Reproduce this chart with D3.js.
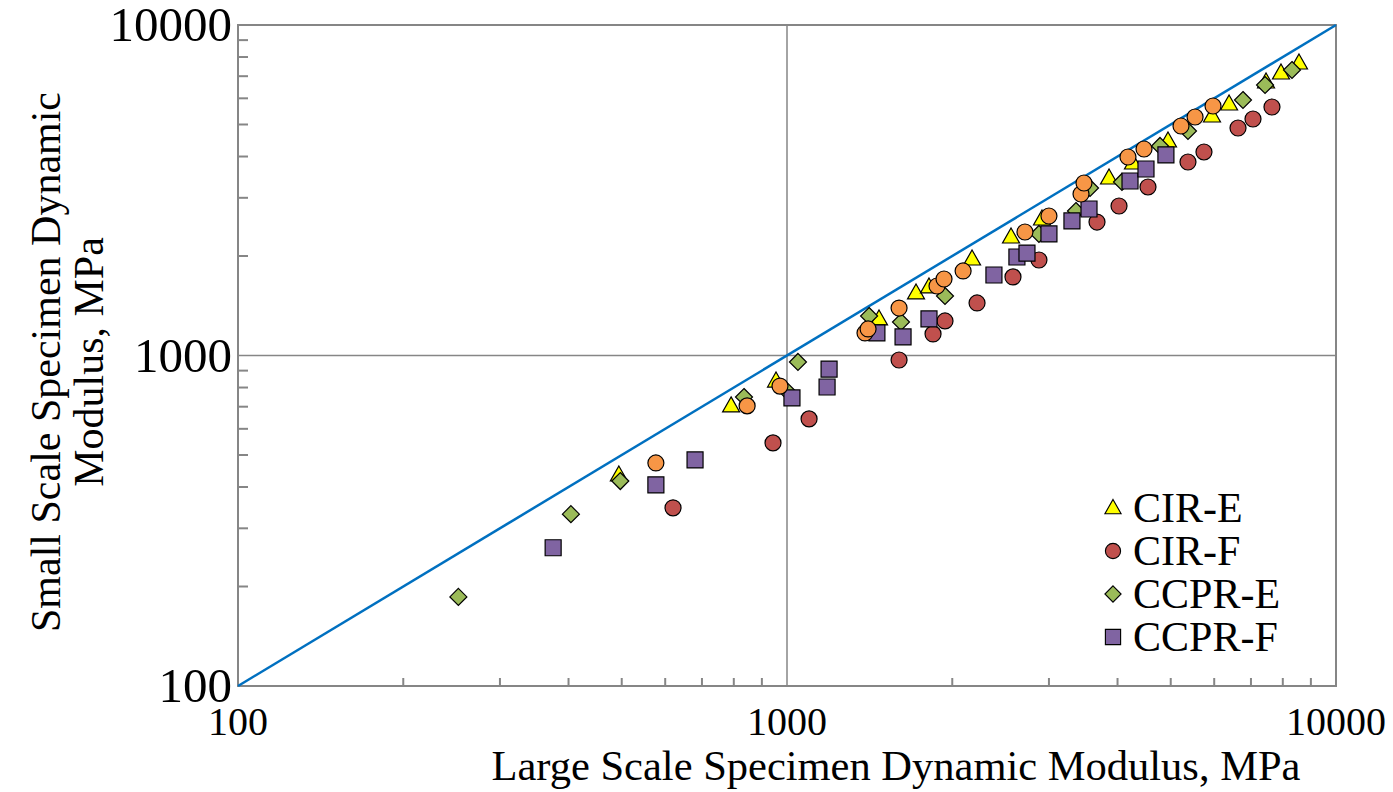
<!DOCTYPE html>
<html>
<head>
<meta charset="utf-8">
<script src="https://cdn.jsdelivr.net/npm/d3@7"></script>
<style>
  html, body { margin: 0; padding: 0; background: #fff; }
  svg text { font-family: "Liberation Serif", "Times New Roman", serif; fill: #000; }
</style>
</head>
<body>
<svg id="chart" width="1393" height="792"></svg>
<script>
// Small vs large scale specimen dynamic modulus (MPa), log-log

const xTicks = [100, 1000, 10000];
const yTicks = [100, 1000, 10000];

// CIR-E (yellow triangles)
const cirEx = [494, 791, 955, 1471, 1718, 1814, 2173, 2559, 2914, 3860, 4268, 4943, 5945, 6386, 7457, 7940, 8562];
const cirEy = [435, 704, 837, 1290, 1546, 1612, 1959, 2283, 2588, 3444, 3823, 4457, 5305, 5768, 6722, 7158, 7674];

// CIR-F (red circles)
const cirFx = [620, 943, 1097, 1600, 1845, 1940, 2219, 2580, 2877, 3670, 4025, 4545, 5375, 5748, 6630, 7060, 7645];
const cirFy = [346, 544, 643, 969, 1162, 1272, 1442, 1729, 1945, 2534, 2834, 3235, 3850, 4128, 4880, 5195, 5648];

// CCPR-E (green diamonds)
const ccprEx = [252, 404, 497, 835, 996, 1047, 1411, 1613, 1940, 2877, 3360, 3564, 4075, 4780, 5375, 6770, 7426, 8315];
const ccprEy = [186, 331, 417, 749, 786, 956, 1317, 1263, 1514, 2332, 2736, 3213, 3350, 4305, 4778, 5930, 6584, 7308];

// CCPR-F (purple squares)
const ccprFx = [375, 577, 680, 1021, 1183, 1193, 1458, 1627, 1814, 2382, 2623, 2736, 3000, 3304, 3549, 4215, 4507, 4900];
const ccprFy = [262, 406, 483, 744, 803, 910, 1170, 1138, 1290, 1752, 1986, 2042, 2332, 2553, 2775, 3373, 3667, 4044];

// unlabelled fifth series (orange circles, not in legend)
const extraX = [577, 846, 971, 1387, 1405, 1600, 1876, 1932, 2093, 2713, 3000, 3432, 3475, 4179, 4470, 5220, 5537, 5970];
const extraY = [473, 704, 808, 1170, 1203, 1392, 1623, 1704, 1802, 2364, 2643, 3081, 3326, 3986, 4215, 4947, 5268, 5687];

// line of equality
const lineX = [100, 10000];
const lineY = [100, 10000];

const series = [
  { name: 'CIR-E', xs: cirEx, ys: cirEy, shape: 'triangle', fill: '#FFFF00', legend: true },
  { name: 'CIR-F', xs: cirFx, ys: cirFy, shape: 'circle', fill: '#C0504D', legend: true },
  { name: 'CCPR-E', xs: ccprEx, ys: ccprEy, shape: 'diamond', fill: '#9BBB59', legend: true },
  { name: 'CCPR-F', xs: ccprFx, ys: ccprFy, shape: 'square', fill: '#8064A2', legend: true },
  { name: 'Extra', xs: extraX, ys: extraY, shape: 'circle', fill: '#F79646', legend: false }
];

const svg = d3.select('#chart');
const plotLeft = 238, plotRight = 1336, plotTop = 25, plotBottom = 686;

const x = d3.scaleLog().domain([100, 10000]).range([plotLeft, plotRight]);
const y = d3.scaleLog().domain([100, 10000]).range([plotBottom, plotTop]);

const axisColor = '#868686';

// minor tick values (2..9 in each decade)
const minors = [];
[100, 1000].forEach(dec => {
  for (let k = 2; k <= 9; k++) minors.push(dec * k);
});

// gridlines at the middle decade
svg.append('line')
  .attr('x1', x(1000)).attr('x2', x(1000))
  .attr('y1', plotTop).attr('y2', plotBottom)
  .attr('stroke', axisColor).attr('stroke-width', 1.5);
svg.append('line')
  .attr('x1', plotLeft).attr('x2', plotRight)
  .attr('y1', y(1000)).attr('y2', y(1000))
  .attr('stroke', axisColor).attr('stroke-width', 1.5);

// plot border
svg.append('rect')
  .attr('x', plotLeft).attr('y', plotTop)
  .attr('width', plotRight - plotLeft).attr('height', plotBottom - plotTop)
  .attr('fill', 'none')
  .attr('stroke', axisColor).attr('stroke-width', 2);

// minor ticks, drawn inward
svg.append('g').selectAll('line')
  .data(minors)
  .enter().append('line')
  .attr('x1', d => x(d)).attr('x2', d => x(d))
  .attr('y1', plotBottom).attr('y2', plotBottom - 8)
  .attr('stroke', axisColor).attr('stroke-width', 2);

svg.append('g').selectAll('line')
  .data(minors)
  .enter().append('line')
  .attr('x1', plotLeft).attr('x2', plotLeft + 10)
  .attr('y1', d => y(d)).attr('y2', d => y(d))
  .attr('stroke', axisColor).attr('stroke-width', 2);

// tick labels
svg.append('g').selectAll('text')
  .data(xTicks)
  .enter().append('text')
  .attr('x', d => x(d))
  .attr('y', plotBottom + 49)
  .attr('text-anchor', 'middle')
  .attr('font-size', 40)
  .text(d => d);

svg.append('g').selectAll('text')
  .data(yTicks)
  .enter().append('text')
  .attr('x', plotLeft - 6)
  .attr('y', d => y(d) + 16)
  .attr('text-anchor', 'end')
  .attr('font-size', 49)
  .text(d => d);

// axis titles
svg.append('text')
  .attr('x', 896)
  .attr('y', 780)
  .attr('text-anchor', 'middle')
  .attr('font-size', 42.5)
  .text('Large Scale Specimen Dynamic Modulus, MPa');

const yTitle = svg.append('text')
  .attr('transform', 'translate(0,362) rotate(-90)')
  .attr('text-anchor', 'middle')
  .attr('font-size', 42);
yTitle.append('tspan').attr('x', 0).attr('y', 60).text('Small Scale Specimen Dynamic');
yTitle.append('tspan').attr('x', 0).attr('y', 103).text('Modulus, MPa');

// 1:1 line
svg.append('path')
  .datum(lineX.map((v, i) => [v, lineY[i]]))
  .attr('d', d3.line().x(d => x(d[0])).y(d => y(d[1])))
  .attr('fill', 'none')
  .attr('stroke', '#0070C0')
  .attr('stroke-width', 2.5);

// marker shapes
function shapePath(shape) {
  if (shape === 'triangle') return 'M0,-9L8.5,6L-8.5,6Z';
  if (shape === 'diamond') return 'M0,-8.5L8.5,0L0,8.5L-8.5,0Z';
  if (shape === 'square') return 'M-8,-8H8V8H-8Z';
  return d3.symbol().type(d3.symbolCircle).size(Math.PI * 8 * 8)();
}

series.forEach(s => {
  const pts = s.xs.map((v, i) => [v, s.ys[i]]);
  svg.append('g').selectAll('path')
    .data(pts)
    .enter().append('path')
    .attr('d', shapePath(s.shape))
    .attr('transform', d => `translate(${x(d[0])},${y(d[1])})`)
    .attr('fill', s.fill)
    .attr('stroke', '#000')
    .attr('stroke-width', 1.2);
});

// legend
const legendItems = series.filter(s => s.legend);
const legend = svg.append('g').attr('transform', 'translate(1113,508)');
legendItems.forEach((s, i) => {
  const row = legend.append('g').attr('transform', `translate(0,${i * 43})`);
  row.append('path')
    .attr('d', shapePath(s.shape))
    .attr('transform', 'scale(0.95)')
    .attr('fill', s.fill)
    .attr('stroke', '#000')
    .attr('stroke-width', 1.2);
  row.append('text')
    .attr('x', 20)
    .attr('y', 14)
    .attr('font-size', 42)
    .text(s.name);
});
</script>
</body>
</html>
